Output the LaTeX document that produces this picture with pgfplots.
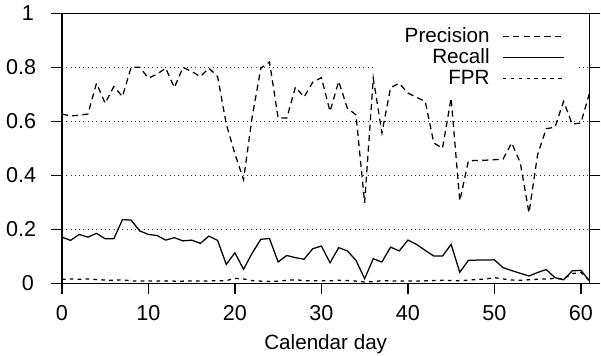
\documentclass[border=0pt]{standalone}
\usepackage{pgfplots}
\pgfplotsset{compat=1.18}
\usepackage{pgfplotstable}
\usepackage{fontspec}
\setmainfont{Liberation Sans}
\pgfplotsset{
  layers/mylayers/.define layer set={axis background,axis grid,axis ticks,axis lines,axis tick labels,pre main,main,axis descriptions,axis foreground,plots}{},
}
\pgfplotstableread{
day prec rec fpr
0 0.627 0.171 0.015
1 0.620 0.159 0.016
2 0.623 0.181 0.015
3 0.627 0.171 0.016
4 0.741 0.185 0.014
5 0.667 0.165 0.012
6 0.729 0.165 0.011
7 0.692 0.236 0.013
8 0.800 0.234 0.009
9 0.800 0.194 0.008
10 0.760 0.181 0.009
11 0.775 0.177 0.008
12 0.797 0.160 0.009
13 0.725 0.169 0.008
14 0.800 0.157 0.008
15 0.785 0.160 0.009
16 0.766 0.148 0.008
17 0.797 0.175 0.009
18 0.766 0.159 0.009
19 0.590 0.070 0.010
20 0.480 0.113 0.018
21 0.384 0.052 0.016
22 0.617 0.112 0.010
23 0.797 0.163 0.008
24 0.820 0.166 0.007
25 0.612 0.079 0.008
26 0.612 0.103 0.011
27 0.727 0.095 0.013
28 0.690 0.089 0.010
29 0.745 0.128 0.009
30 0.762 0.138 0.010
31 0.637 0.076 0.009
32 0.748 0.132 0.011
33 0.649 0.120 0.010
34 0.624 0.085 0.008
35 0.298 0.017 0.005
36 0.760 0.091 0.006
37 0.557 0.079 0.010
38 0.725 0.134 0.009
39 0.741 0.120 0.008
40 0.705 0.160 0.009
41 0.689 0.144 0.008
42 0.674 0.122 0.009
43 0.520 0.101 0.010
44 0.500 0.101 0.011
45 0.686 0.144 0.010
46 0.305 0.041 0.009
47 0.454 0.085 0.012
48 0.455 0.086 0.014
49 0.456 0.086 0.016
50 0.458 0.087 0.021
51 0.460 0.058 0.016
52 0.520 0.047 0.012
53 0.446 0.037 0.011
54 0.261 0.027 0.013
55 0.477 0.040 0.015
56 0.573 0.051 0.016
57 0.578 0.021 0.018
58 0.674 0.013 0.016
59 0.590 0.046 0.036
60 0.594 0.048 0.040
61 0.705 0.009 0.010
}\datatable
\begin{document}
\begin{tikzpicture}
\begin{axis}[
  set layers=mylayers,
  scale only axis,
  width=294pt, height=150.4pt,
  xmin=0, xmax=61, ymin=0, ymax=1,
  xtick={0,10,...,60},
  ytick={0,0.2,...,1},
  yticklabels={0,0.2,0.4,0.6,0.8,1},
  xtick pos=bottom,
  ytick pos=both,
  tick align=outside,
  major tick length=6pt,
  ymajorgrids,
  grid style={dotted, line width=0.5pt, black!80},
  axis line style={line width=0.8pt},
  every tick/.style={line width=0.8pt, black},
  /pgf/number format/assume math mode=true,
  tick label style={font=\fontsize{12}{14}\selectfont},
  yticklabel style={inner xsep=3.4pt, xshift=-6pt, text width=15.5pt, align=right},
  xticklabel style={anchor=base, yshift=-14.5pt},
  xlabel={Calendar day},
  xlabel style={at={(axis description cs:0.5,0)}, anchor=base, yshift=-36.7pt,
    inner ysep=1pt, font=\fontsize{11.5}{13.8}\selectfont},
  legend cell align=right,
  legend plot pos=right,
  legend style={at={(rel axis cs:0.977,0.965)}, anchor=north east, draw=none, fill=white,
    font=\fontsize{11.5}{13.8}\selectfont, row sep=-1pt, column sep=3.5pt,
    inner xsep=7pt, inner ysep=1pt,
    nodes={inner xsep=3.5pt, inner ysep=1.5pt}},
  legend image code/.code={\draw[#1] (0pt,0pt) -- (34pt,0pt);},
]
\addplot[on layer=plots, black, line width=0.7pt, dash pattern=on 3.4pt off 2.4pt] table[x=day, y=prec] {\datatable};
\addlegendentry{\hspace*{6.5pt}Precision}
\addplot[on layer=plots, black, line width=0.7pt] table[x=day, y=rec] {\datatable};
\addlegendentry{Recall}
\addplot[on layer=plots, black, line width=0.7pt, dash pattern=on 2pt off 2.4pt] table[x=day, y=fpr] {\datatable};
\addlegendentry{FPR}
\end{axis}
\end{tikzpicture}
\end{document}
